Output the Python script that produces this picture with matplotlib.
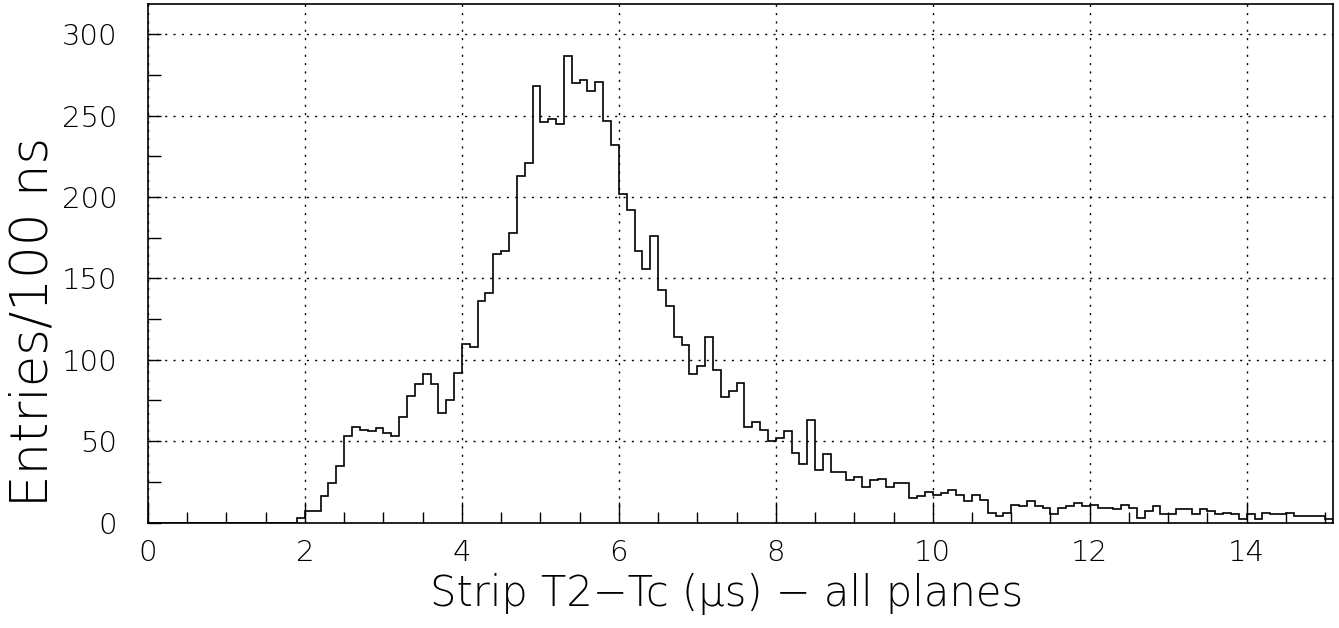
import numpy as np
import matplotlib
matplotlib.use("Agg")
import matplotlib.pyplot as plt
from matplotlib.ticker import MultipleLocator

# histogram: 0.1 us bins starting at 0.0
bin_width = 0.1
counts_start = 1.9  # bins below are empty
counts = [3, 7, 7, 16, 24, 35, 53, 59, 57, 56, 58, 55, 53, 65, 78, 85, 91, 85, 67, 75, 92,
          110, 108, 136, 141, 165, 167, 178, 213, 221, 268,
          246, 248, 245, 287, 270, 272, 265, 271, 247, 232,
          202, 192, 167, 156, 176, 143, 133, 114, 109, 91,
          96, 114, 94, 77, 81, 86, 59, 62, 57, 50,
          52, 56, 43, 36, 63, 32, 42, 31, 31, 26,
          28, 22, 26, 27, 22, 24, 24, 15, 16, 19,
          17, 18, 20, 17, 13, 17, 14, 6, 4, 6,
          11, 10, 13, 10, 9, 5, 9, 10, 12, 10,
          11, 9, 9, 8, 11, 9, 3, 7, 10, 5,
          5, 8, 8, 5, 8, 7, 5, 6, 5, 2,
          5, 2, 6, 5, 5, 6, 4, 4, 4, 4,
          2]

n_empty = int(round(counts_start / bin_width))
values = np.array([0] * n_empty + counts, dtype=float)
edges = np.arange(len(values) + 1) * bin_width

xlabel = "Strip T2\u2212Tc (\u03bcs) \u2212 all planes"
ylabel = "Entries/100 ns"

plt.rcParams['font.family'] = ['DejaVu Sans']
fig = plt.figure(figsize=(13.39, 6.28), dpi=100)
ax = fig.add_axes([148 / 1339, 1 - 522.5 / 628, (1333 - 148) / 1339, (522.5 - 3.5) / 628])

ax.stairs(values, edges, color="black", lw=1.2, baseline=0)

ax.set_xlim(0, 15.1)
ax.set_ylim(0, 319)
ax.xaxis.set_major_locator(MultipleLocator(2))
ax.xaxis.set_minor_locator(MultipleLocator(0.5))
ax.yaxis.set_major_locator(MultipleLocator(50))
ax.yaxis.set_minor_locator(MultipleLocator(25))
ax.tick_params(which="major", direction="in", length=15, width=1, labelsize=21, pad=12)
ax.tick_params(which="minor", direction="in", length=8, width=1)
ax.tick_params(axis="y", which="major", length=9, pad=22)
ax.tick_params(axis="y", which="minor", length=9)
ax.grid(True, which="major", color="black", linestyle=(0, (1.5, 4.5)), lw=1)
for s in ax.spines.values():
    s.set_linewidth(1.2)
for lab in ax.get_xticklabels() + ax.get_yticklabels():
    lab.set_fontweight("light")

fig.text(727 / 1339, 1 - 606 / 628, xlabel, ha="center", va="baseline", fontsize=30, fontweight="light")
fig.text(33 / 1339, 1 - 322 / 628, ylabel, ha="center", va="center", rotation=90, fontsize=37, fontweight="light")

fig.savefig("out.png", dpi=100)
